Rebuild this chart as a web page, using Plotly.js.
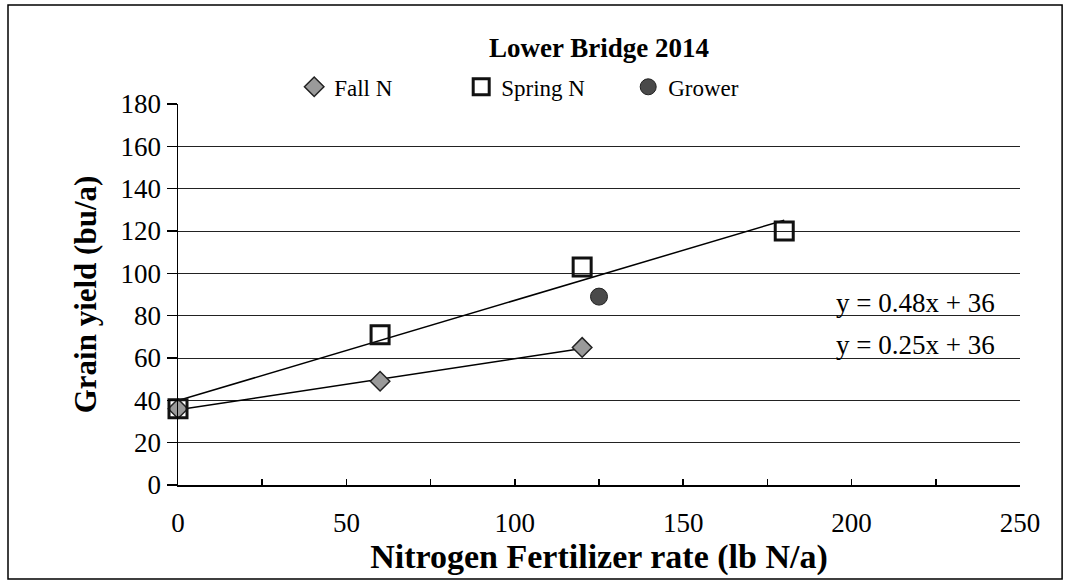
<!DOCTYPE html>
<html>
<head>
<meta charset="utf-8">
<script src="https://cdn.plot.ly/plotly-3.0.1.min.js"></script>
<style>html,body{margin:0;padding:0;background:#fff;}#chart{width:1068px;height:582px;}</style>
</head>
<body>
<div id="chart"></div>
<script>
// Data
const fallX = [0, 60, 120];
const fallY = [36, 49, 65];
const springX = [0, 60, 120, 180];
const springY = [36, 71, 103, 120];
const growerX = [125];
const growerY = [89];
const xTicks = [0, 50, 100, 150, 200, 250];
const yTicks = [0, 20, 40, 60, 80, 100, 120, 140, 160, 180];
const eqSpring = "y = 0.48x + 36";
const eqFall = "y = 0.25x + 36";

function linfit(xs, ys) {
  const n = xs.length;
  const mx = xs.reduce((a, b) => a + b, 0) / n;
  const my = ys.reduce((a, b) => a + b, 0) / n;
  let sxy = 0, sxx = 0;
  for (let i = 0; i < n; i++) { sxy += (xs[i] - mx) * (ys[i] - my); sxx += (xs[i] - mx) ** 2; }
  const m = sxy / sxx;
  const b = my - m * mx;
  const x0 = Math.min(...xs), x1 = Math.max(...xs);
  return { x: [x0, x1], y: [m * x0 + b, m * x1 + b] };
}
const fallFit = linfit(fallX, fallY);
const springFit = linfit(springX, springY);

const FONT = "Liberation Serif, Times New Roman, serif";

const traces = [
  { x: springFit.x, y: springFit.y, mode: "lines", line: { color: "#000", width: 1.5 }, showlegend: false, hoverinfo: "skip", cliponaxis: false },
  { x: fallFit.x, y: fallFit.y, mode: "lines", line: { color: "#000", width: 1.5 }, showlegend: false, hoverinfo: "skip", cliponaxis: false },
  { x: fallX, y: fallY, name: "Fall N", mode: "markers", cliponaxis: false,
    marker: { symbol: "diamond", size: 15, color: "#9a9a9a", line: { color: "#222", width: 1.5 } } },
  { x: springX, y: springY, name: "Spring N", mode: "markers", cliponaxis: false,
    marker: { symbol: "square-open", size: 18, color: "#111", line: { color: "#111", width: 3 } } },
  { x: growerX, y: growerY, name: "Grower", mode: "markers", cliponaxis: false,
    marker: { symbol: "circle", size: 17, color: "#4a4a4a", line: { color: "#222", width: 1 } } }
];

const layout = {
  width: 1068, height: 582,
  margin: { l: 178, r: 48, t: 104, b: 97 },
  paper_bgcolor: "#fff", plot_bgcolor: "#fff",
  font: { family: FONT, color: "#000", size: 22 },
  title: { text: "<b>Lower Bridge 2014</b>", font: { family: FONT, size: 27, color: "#000" },
           x: 0.5, xref: "paper", y: 1 - 48 / 582, yanchor: "middle" },
  showlegend: true,
  legend: { orientation: "h", x: 0.138, xanchor: "left", y: 1.045, yanchor: "middle",
            font: { family: FONT, size: 23, color: "#000" }, entrywidth: 122, traceorder: "normal",
            bgcolor: "rgba(0,0,0,0)" },
  xaxis: {
    range: [0, 250], tickvals: xTicks, ticktext: xTicks.map(String),
    showgrid: false, zeroline: false, showline: true, linecolor: "#000", linewidth: 1.5,
    ticks: "inside", ticklen: 6, tickcolor: "#000", tickwidth: 1.5,
    minor: { dtick: 25, tick0: 0, ticks: "inside", ticklen: 6, tickcolor: "#000", tickwidth: 1.5, showgrid: false },
    ticklabelstandoff: 13,
    tickfont: { family: FONT, size: 27, color: "#000" },
    title: { text: "<b>Nitrogen Fertilizer rate (lb N/a)</b>", font: { family: FONT, size: 34, color: "#000" }, standoff: 0 },
    fixedrange: true
  },
  yaxis: {
    range: [0, 180], tickvals: yTicks, ticktext: yTicks.map(String),
    showgrid: true, gridcolor: "#222", gridwidth: 1, zeroline: false,
    showline: true, linecolor: "#000", linewidth: 1.5,
    ticks: "outside", ticklen: 10, tickcolor: "#000", tickwidth: 1.5,
    tickfont: { family: FONT, size: 27, color: "#000" },
    title: { text: "<b>Grain yield (bu/a)</b>", font: { family: FONT, size: 31, color: "#000" }, standoff: 14 },
    fixedrange: true
  },
  annotations: [
    { x: 219, y: 86, xref: "x", yref: "y", text: eqSpring, showarrow: false,
      font: { family: FONT, size: 27, color: "#000" }, xanchor: "center", yanchor: "middle" },
    { x: 219, y: 66, xref: "x", yref: "y", text: eqFall, showarrow: false,
      font: { family: FONT, size: 27, color: "#000" }, xanchor: "center", yanchor: "middle" }
  ],
  shapes: [
    { type: "rect", xref: "paper", yref: "paper", x0: -0.2019, x1: 1.05, y0: -0.2467, y1: 1.26,
      line: { color: "#000", width: 1.5 }, fillcolor: "rgba(0,0,0,0)", layer: "below" }
  ]
};

Plotly.newPlot("chart", traces, layout, { displayModeBar: false, staticPlot: true });
</script>
</body>
</html>
